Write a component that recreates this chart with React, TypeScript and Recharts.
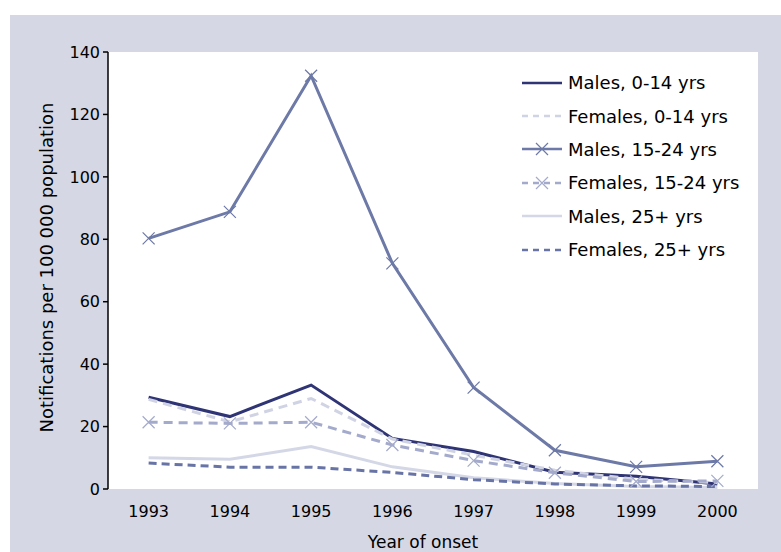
import React from 'react';
import { LineChart, Line, XAxis, YAxis, CartesianGrid, Legend } from 'recharts';

const years = [1993, 1994, 1995, 1996, 1997, 1998, 1999, 2000];
const males014 = [29.4, 23.2, 33.3, 16.2, 12.0, 5.4, 4.1, 1.6];
const females014 = [28.7, 21.5, 29.0, 16.0, 10.8, 6.0, 3.1, 2.0];
const males1524 = [80.3, 88.8, 132.4, 72.3, 32.5, 12.4, 7.1, 8.9];
const females1524 = [21.4, 21.0, 21.4, 14.1, 9.1, 5.2, 2.4, 2.6];
const males25 = [10.0, 9.5, 13.6, 7.1, 3.6, 1.8, 0.8, 0.5];
const females25 = [8.3, 7.0, 7.0, 5.3, 3.0, 1.6, 1.0, 0.8];
const yTicks = [0, 20, 40, 60, 80, 100, 120, 140];

const data = years.map((year, i) => ({
  year,
  m014: males014[i],
  f014: females014[i],
  m1524: males1524[i],
  f1524: females1524[i],
  m25: males25[i],
  f25: females25[i],
}));

// boundaries between the year categories (Excel-style tick marks)
const edgeTicks = [years[0] - 0.5, ...years.map((y) => y + 0.5)];

const series = [
  { key: 'm014', name: 'Males, 0-14 yrs', color: '#2f3474', dash: undefined, marker: false },
  { key: 'f014', name: 'Females, 0-14 yrs', color: '#d0d3e3', dash: '9 6', marker: false },
  { key: 'm1524', name: 'Males, 15-24 yrs', color: '#6d79a6', dash: undefined, marker: true },
  { key: 'f1524', name: 'Females, 15-24 yrs', color: '#a4aacb', dash: '9 6', marker: true },
  { key: 'm25', name: 'Males, 25+ yrs', color: '#d4d7e6', dash: undefined, marker: false },
  { key: 'f25', name: 'Females, 25+ yrs', color: '#6874a6', dash: '8 5', marker: false },
];

const FONT = '"DejaVu Sans", "Liberation Sans", Arial, sans-serif';

const xMark = (color: string) => (props: any) => {
  const { cx, cy, index } = props;
  if (cx == null || cy == null) return <g key={index} />;
  const s = 6;
  return (
    <path
      key={index}
      d={`M${cx - s},${cy - s}L${cx + s},${cy + s}M${cx - s},${cy + s}L${cx + s},${cy - s}`}
      stroke={color}
      strokeWidth={1.2}
      fill="none"
    />
  );
};

function LegendBox() {
  return (
    <div style={{ fontFamily: FONT, fontSize: 18, color: '#000' }}>
      {series.map((s) => (
        <div key={s.key} style={{ display: 'flex', alignItems: 'center', height: 33.4 }}>
          <svg width={46} height={20} style={{ flex: 'none' }}>
            <line x1={0} y1={10} x2={40} y2={10} stroke={s.color} strokeWidth={2.5} strokeDasharray={s.dash ? '6 5' : undefined} />
            {s.marker && (
              <path d="M14,4L26,16M14,16L26,4" stroke={s.color} strokeWidth={1.2} fill="none" />
            )}
          </svg>
          <span style={{ whiteSpace: 'nowrap' }}>{s.name}</span>
        </div>
      ))}
    </div>
  );
}

export default function App() {
  return (
    <div style={{ position: 'absolute', left: 0, top: 0, width: 781, height: 552, background: '#fff', overflow: 'hidden' }}>
      <div style={{ position: 'absolute', left: 10, top: 15, right: 0, bottom: 0, background: '#d5d7e4' }} />
      <div style={{ position: 'absolute', left: 0, top: 0 }}>
        <LineChart width={781} height={552} data={data} margin={{ top: 52, right: 23, bottom: 23, left: 48 }}>
          <CartesianGrid horizontal={false} vertical={false} fill="#ffffff" />
          <XAxis
            xAxisId="edges"
            type="number"
            dataKey="year"
            domain={[edgeTicks[0], edgeTicks[edgeTicks.length - 1]]}
            ticks={edgeTicks}
            tick={false}
            tickSize={6}
            height={0}
            axisLine={{ stroke: '#000', strokeWidth: 1.5 }}
            tickLine={{ stroke: '#000', strokeWidth: 1.5 }}
          />
          <XAxis
            xAxisId="labels"
            type="number"
            dataKey="year"
            domain={[edgeTicks[0], edgeTicks[edgeTicks.length - 1]]}
            ticks={years}
            tickLine={false}
            axisLine={false}
            tickSize={6}
            tickMargin={11}
            height={40}
            tick={{ fontSize: 16, fill: '#000', fontFamily: FONT }}
            label={{
              content: (p: any) => {
                const vb = p.viewBox;
                return (
                  <text x={vb.x + vb.width / 2 - 10} y={548} textAnchor="middle" fontSize={17} fontFamily={FONT} fill="#000">
                    Year of onset
                  </text>
                );
              },
            }}
          />
          <YAxis
            domain={[0, 140]}
            ticks={yTicks}
            width={60}
            tickSize={5}
            tickMargin={3}
            axisLine={{ stroke: '#000', strokeWidth: 1.5 }}
            tickLine={{ stroke: '#000', strokeWidth: 1.5 }}
            tick={{ fontSize: 16, fill: '#000', fontFamily: FONT }}
            label={{
              content: (p: any) => {
                const vb = p.viewBox;
                const x = vb.x - 2;
                const y = vb.y + vb.height / 2 - 3;
                return (
                  <text x={x} y={y} transform={`rotate(-90 ${x} ${y})`} textAnchor="middle" dominantBaseline="central" fontSize={18} fontFamily={FONT} fill="#000">
                    Notifications per 100 000 population
                  </text>
                );
              },
            }}
          />
          <Legend
            layout="vertical"
            align="center"
            verticalAlign="middle"
            wrapperStyle={{ left: 522, top: 66, width: 250 }}
            content={() => <LegendBox />}
          />
          {series.map((s) => (
            <Line
              key={s.key}
              xAxisId="labels"
              type="linear"
              dataKey={s.key}
              name={s.name}
              stroke={s.color}
              strokeWidth={3}
              strokeDasharray={s.dash}
              dot={s.marker ? xMark(s.color) : false}
              activeDot={false}
              isAnimationActive={false}
            />
          ))}
        </LineChart>
      </div>
    </div>
  );
}
